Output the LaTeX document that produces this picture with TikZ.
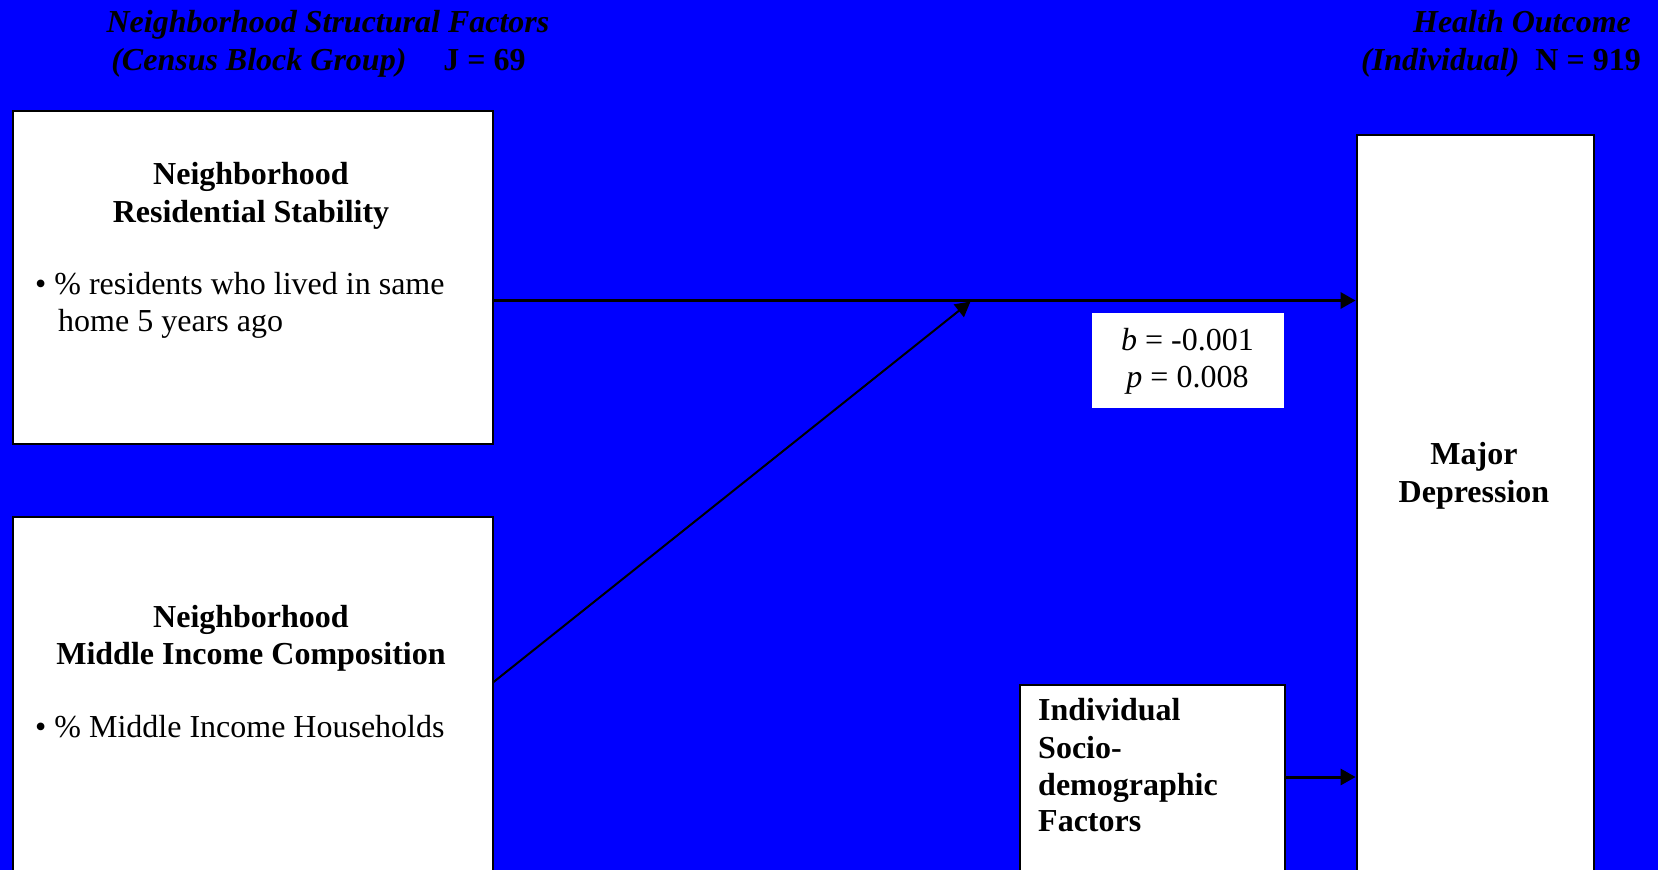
\documentclass[tikz,border=0pt]{standalone}
\usepackage{fontspec}
\setmainfont{Liberation Serif}
\usetikzlibrary{arrows.meta}
\definecolor{bgblue}{RGB}{0,0,255}
\begin{document}
\begin{tikzpicture}[x=1pt,y=-1pt,
  box/.style={draw=black,line width=2pt,fill=white,anchor=north west,inner sep=0pt},
  txt/.style={anchor=base,inner sep=0pt,font=\fontsize{32}{38}\selectfont},
  ltxt/.style={txt,anchor=base west},
  btxt/.style={txt,font=\fontsize{32}{38}\selectfont\bfseries},
  lbtxt/.style={btxt,anchor=base west},
  ttl/.style={anchor=base,inner sep=0pt,font=\fontsize{32}{38}\selectfont\bfseries},
  conn/.style={-{Triangle[length=15pt,width=16pt]},line width=3pt,draw=black}
]
\path[use as bounding box] (0,0) rectangle (1658,870);
\fill[bgblue] (0,0) rectangle (1658,870);
\clip (0,0) rectangle (1658,870);

% titles
\node[ttl] (tl1) at (328,32) {\itshape Neighborhood Structural Factors};
\node[ttl] (tl2) at (318.5,70) {\itshape (Census Block Group)\hspace{37pt}\upshape J = 69};
\node[ttl] (tr1) at (1522,32) {\itshape Health Outcome};
\node[ttl] (tr2) at (1501,70) {\itshape (Individual)\hspace{16pt}\upshape N = 919};

% boxes
\node[box,minimum width=480pt,minimum height=333pt] (stab) at (11.6,110) {};
\node[box,minimum width=480pt,minimum height=370pt] (inc) at (11.6,516) {};
\node[box,minimum width=237pt,minimum height=750pt] (dep) at (1355.6,134) {};
\node[box,minimum width=265pt,minimum height=200pt] (ind) at (1019,684) {};
\node[fill=white,draw=none,anchor=north west,inner sep=0pt,minimum width=192pt,minimum height=95pt] (stat) at (1092,313) {};

% box texts
\node[btxt] (s1) at (251,184) {Neighborhood};
\node[btxt] (s2) at (251,222.5) {Residential Stability};
\node[ltxt] (s3) at (35,294) {\textbullet\ \% residents who lived in same};
\node[ltxt] (s4) at (58,331) {home 5 years ago};

\node[btxt] (i1) at (251,627.5) {Neighborhood};
\node[btxt] (i2) at (251,664.5) {Middle Income Composition};
\node[ltxt] (i3) at (35,737.5) {\textbullet\ \% Middle Income Households};

\node[txt] (b1) at (1187.5,350.5) {\textit{b} = -0.001};
\node[txt] (b2) at (1187.5,387.5) {\textit{p} = 0.008};

\node[btxt] (d1) at (1474,464.7) {Major};
\node[btxt] (d2) at (1474,502.7) {Depression};

\node[lbtxt] (f1) at (1038,720.6) {Individual};
\node[lbtxt] (f2) at (1038,758.6) {Socio-};
\node[lbtxt] (f3) at (1038,795.7) {demographic};
\node[lbtxt] (f4) at (1038,831.6) {Factors};

% connectors
\coordinate (join) at (970.5,301.5);
\draw[conn] (stab.east |- 0,300.5) -- (dep.west |- 0,300.5);
\draw[conn,line width=2pt] (inc.east |- 0,682) -- (join);
\draw[conn] (ind.east |- 0,777) -- (dep.west |- 0,777);
\end{tikzpicture}
\end{document}
